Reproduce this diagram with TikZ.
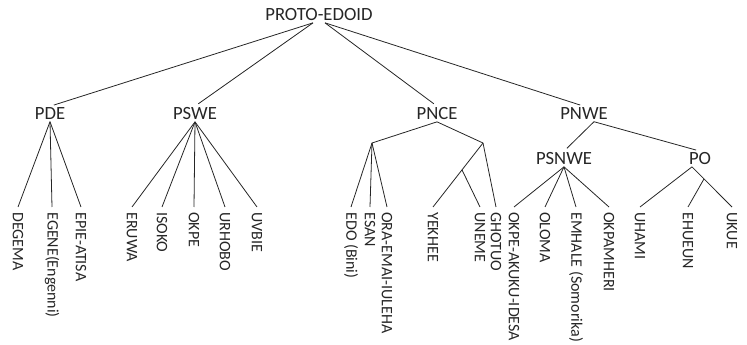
\documentclass[tikz,border=0pt]{standalone}
\usepackage{fontspec}
\setmainfont{Carlito}
\usepackage{tikz}
\usetikzlibrary{calc}

\begin{document}
\begin{tikzpicture}[x=0.75pt,y=-0.75pt,font=\fontsize{14}{16}\selectfont,line width=0.6pt,color=black!85,
  grp/.style={inner sep=1pt},
  leaf/.style={rotate=-90,anchor=west,inner xsep=3.75pt,inner ysep=0pt,font=\fontsize{12}{14}\selectfont},
  tolbl/.style={shorten >=3pt}]
\useasboundingbox (0,0) rectangle (747,345);

\node[grp] (root) at (319,15) {PROTO-EDOID};
\coordinate (rootL) at ($(root.south)+(-6,0)$);
\coordinate (rootR) at ($(root.south)+(6,0)$);

\node[grp] (pde) at (50,114) {PDE};
\node[grp] (pswe) at (195,114) {PSWE};
\node[grp] (pnce) at (437,114) {PNCE};
\node[grp] (pnwe) at (584,114) {PNWE};
\node[grp] (psnwe) at (564,159) {PSNWE};
\node[grp] (po) at (700,159) {PO};

\draw[tolbl] (rootL) -- (pde.north);
\draw[tolbl] (rootL) -- (pswe.north);
\draw[tolbl] (rootR) -- (pnce.north);
\draw[tolbl] (rootR) -- (pnwe.north);

\node[leaf] (degema) at (18,207) {DEGEMA};
\node[leaf] (egene) at (52,207) {EGENE(Engenni)};
\node[leaf] (epie) at (81,207) {EPIE-ATISA};
\node[leaf] (eruwa) at (132,207) {ERUWA};
\node[leaf] (isoko) at (162,207) {ISOKO};
\node[leaf] (okpe) at (194,207) {OKPE};
\node[leaf] (urhobo) at (225,207) {URHOBO};
\node[leaf] (uvbie) at (257,207) {UVBIE};
\node[leaf] (edo) at (351,207) {EDO (Bini)};
\node[leaf] (esan) at (370,207) {ESAN};
\node[leaf] (ora) at (387,207) {ORA-EMAI-IULEHA};
\node[leaf] (yekhee) at (433,207) {YEKHEE};
\node[leaf] (uneme) at (480,207) {UNEME};
\node[leaf] (ghotuo) at (496,207) {GHOTUO};
\node[leaf] (okpeak) at (514,207) {OKPE-AKUKU-IDESA};
\node[leaf] (oloma) at (545,207) {OLOMA};
\node[leaf] (emhale) at (576,207) {EMHALE (Somorika)};
\node[leaf] (okpamheri) at (609,207) {OKPAMHERI};
\node[leaf] (uhami) at (640,207) {UHAMI};
\node[leaf] (ehueun) at (688,207) {EHUEUN};
\node[leaf] (ukue) at (732,207) {UKUE};

\draw (pde.south) -- (degema.west);
\draw (pde.south) -- (egene.west);
\draw (pde.south) -- (epie.west);

\draw (pswe.south) -- (eruwa.west);
\draw (pswe.south) -- (isoko.west);
\draw (pswe.south) -- (okpe.west);
\draw (pswe.south) -- (urhobo.west);
\draw (pswe.south) -- (uvbie.west);

\coordinate (pnceL) at (372,143);
\coordinate (pnceR) at (483,143);
\draw (pnce.south) -- (pnceL);
\draw (pnce.south) -- (pnceR);
\draw (pnceL) -- (edo.west);
\draw (pnceL) -- (esan.west);
\draw (pnceL) -- (ora.west);
\draw (pnceR) -- (yekhee.west);
\draw (pnceR) -- (ghotuo.west);
\coordinate (pnceM) at ($(pnceR)!.42!(yekhee.west)$);
\draw (pnceM) -- (uneme.west);

\coordinate (pnweJ) at ($(pnwe.south)+(10,0)$);
\draw[tolbl] (pnweJ) -- (psnwe.north);
\draw[tolbl] (pnweJ) -- (po.north);

\draw (psnwe.south) -- (okpeak.west);
\draw (psnwe.south) -- (oloma.west);
\draw (psnwe.south) -- (emhale.west);
\draw (psnwe.south) -- (okpamheri.west);

\coordinate (poJ) at ($(po.south)+(-8,0)$);
\draw (poJ) -- (uhami.west);
\draw (poJ) -- (ukue.west);
\coordinate (poM) at ($(poJ)!.3!(ukue.west)$);
\draw (poM) -- (ehueun.west);

\end{tikzpicture}
\end{document}
